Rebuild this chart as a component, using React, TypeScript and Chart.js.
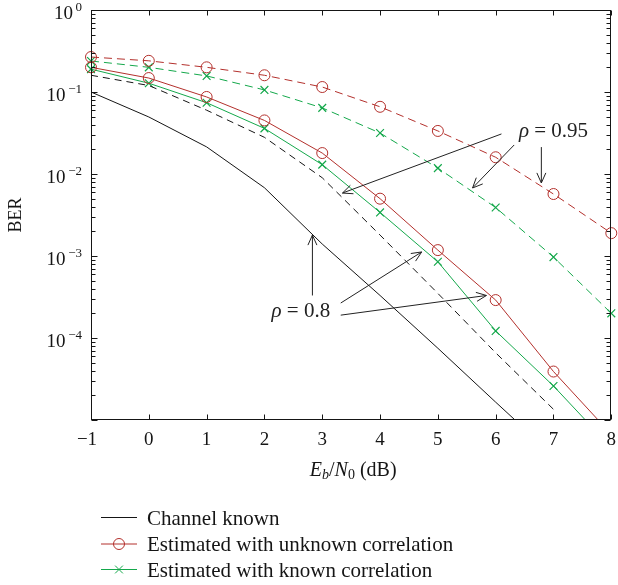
import React, { useEffect, useRef } from 'react';
import { Chart, registerables } from 'chart.js';

Chart.register(...registerables);

// ---------- data ----------
const ebn0 = [-1, 0, 1, 2, 3, 4, 5, 6, 7, 8];
const channelKnown = [0.1, 0.0496, 0.0214, 0.0068, 0.0014, 3.3e-4, 7.5e-5, 1.65e-5, 3.7e-6, 8.5e-7];
const channelKnownDashed = [0.16, 0.12, 0.06, 0.028, 0.009, 0.0018, 3.5e-4, 6.6e-5, 1.35e-5, null];
const unknownCorr08 = [0.2, 0.148, 0.087, 0.045, 0.018, 0.005, 0.00118, 2.9e-4, 3.9e-5, 6.7e-6];
const knownCorr08 = [0.19, 0.128, 0.074, 0.036, 0.013, 0.0034, 8.5e-4, 1.22e-4, 2.6e-5, 4.6e-6];
const unknownCorr095 = [0.267, 0.24, 0.2, 0.16, 0.115, 0.066, 0.0335, 0.016, 0.0057, 0.0019];
const knownCorr095 = [0.239, 0.2, 0.157, 0.106, 0.064, 0.0316, 0.0118, 0.0039, 9.7e-4, 2e-4];

const xTickValues = [-1, 0, 1, 2, 3, 4, 5, 6, 7, 8];
const yTickExponents = [0, -1, -2, -3, -4];
const yDecades = [-5, -4, -3, -2, -1];
const legendLabels = ['Channel known', 'Estimated with unknown correlation', 'Estimated with known correlation'];

// annotation text anchor (data coords) and arrows [fromX, fromY, toX, toY]
const rhoLabels = ['0.95', '0.8'];
const rhoAnchors = [[7.0, 0.0344], [2.63, 2.2e-4]];
const rhoArrows = [
  [[6.1, 0.0308, 3.35, 0.00586], [6.32, 0.0226, 5.6, 0.00675], [6.79, 0.0213, 6.79, 0.00778]],
  [[2.83, 3.3e-4, 2.83, 0.0018], [3.32, 2.67e-4, 4.72, 0.00112], [3.32, 1.9e-4, 5.84, 3.3e-4]],
];

const RED = '#b3302c';
const GREEN = '#14a84b';
const BLACK = '#151515';
const SERIF = '"Liberation Serif", "DejaVu Serif", serif';

const toPoints = (vals: (number | null)[]) =>
  ebn0.map((x, i) => ({ x, y: vals[i] })).filter((p) => p.y !== null);

const drawRuns = (
  ctx: CanvasRenderingContext2D,
  runs: { t: string; f: string; dy?: number }[],
  x: number,
  y: number,
  align: 'left' | 'center' | 'right'
) => {
  ctx.textAlign = 'left';
  ctx.textBaseline = 'alphabetic';
  let total = 0;
  runs.forEach((r) => {
    ctx.font = r.f;
    total += ctx.measureText(r.t).width;
  });
  let cx = align === 'left' ? x : align === 'center' ? x - total / 2 : x - total;
  runs.forEach((r) => {
    ctx.font = r.f;
    ctx.fillText(r.t, cx, y + (r.dy || 0));
    cx += ctx.measureText(r.t).width;
  });
};

const arrow = (ctx: CanvasRenderingContext2D, x1: number, y1: number, x2: number, y2: number) => {
  ctx.beginPath();
  ctx.moveTo(x1, y1);
  ctx.lineTo(x2, y2);
  const ang = Math.atan2(y2 - y1, x2 - x1);
  const len = 11;
  const spread = 0.42;
  ctx.moveTo(x2 - len * Math.cos(ang - spread), y2 - len * Math.sin(ang - spread));
  ctx.lineTo(x2, y2);
  ctx.lineTo(x2 - len * Math.cos(ang + spread), y2 - len * Math.sin(ang + spread));
  ctx.stroke();
};

const axesPlugin = {
  id: 'matlabAxes',
  afterDraw(chart: any) {
    const { ctx, chartArea: a, scales } = chart;
    const xs = scales.x;
    const ys = scales.y;
    ctx.save();
    ctx.strokeStyle = BLACK;
    ctx.fillStyle = BLACK;
    ctx.lineWidth = 1;
    const L = Math.round(a.left) + 0.5;
    const R = Math.round(a.right) - 0.5;
    const T = Math.round(a.top) + 0.5;
    const B = Math.round(a.bottom) - 0.5;
    ctx.strokeRect(L, T, R - L, B - T);

    ctx.beginPath();
    xTickValues.forEach((v) => {
      const px = Math.round(xs.getPixelForValue(v)) + 0.5;
      ctx.moveTo(px, B);
      ctx.lineTo(px, B - 5);
      ctx.moveTo(px, T);
      ctx.lineTo(px, T + 5);
    });
    yDecades.forEach((d) => {
      for (let m = 1; m <= 9; m++) {
        const py = Math.round(ys.getPixelForValue(m * Math.pow(10, d))) + 0.5;
        const len = m === 1 ? 6 : 4;
        ctx.moveTo(L, py);
        ctx.lineTo(L + len, py);
        ctx.moveTo(R, py);
        ctx.lineTo(R - len, py);
      }
    });
    ctx.stroke();

    // x tick labels
    ctx.font = `19px ${SERIF}`;
    ctx.textAlign = 'center';
    ctx.textBaseline = 'alphabetic';
    xTickValues.forEach((v) => {
      const px = xs.getPixelForValue(v);
      const s = v < 0 ? '\u2212' + Math.abs(v) : String(v);
      ctx.fillText(s, px - (v < 0 ? 4 : 0), B + 25.5);
    });

    // y tick labels
    yTickExponents.forEach((e) => {
      const py = ys.getPixelForValue(Math.pow(10, e));
      const sup = e === 0 ? '0' : '\u2212' + Math.abs(e);
      drawRuns(
        ctx,
        [
          { t: '10', f: `19px ${SERIF}` },
          { t: '\u2009' + sup, f: `13px ${SERIF}`, dy: -8 },
        ],
        82,
        py + 9,
        'right'
      );
    });

    // axis titles
    const cxTitle = (a.left + a.right) / 2 + 2;
    drawRuns(
      ctx,
      [
        { t: 'E', f: `italic 20px ${SERIF}` },
        { t: 'b', f: `italic 14px ${SERIF}`, dy: 3 },
        { t: '/', f: `20px ${SERIF}` },
        { t: 'N', f: `italic 20px ${SERIF}` },
        { t: '0', f: `14px ${SERIF}`, dy: 3 },
        { t: ' (dB)', f: `20px ${SERIF}` },
      ],
      cxTitle,
      B + 56,
      'center'
    );
    ctx.save();
    ctx.translate(21, (a.top + a.bottom) / 2);
    ctx.rotate(-Math.PI / 2);
    ctx.font = `18px ${SERIF}`;
    ctx.textAlign = 'center';
    ctx.textBaseline = 'alphabetic';
    ctx.fillText('BER', 0, 0);
    ctx.restore();

    // annotations
    ctx.strokeStyle = '#222';
    ctx.fillStyle = '#222';
    rhoLabels.forEach((lab, i) => {
      const [ax, ay] = rhoAnchors[i];
      const px = xs.getPixelForValue(ax);
      const py = ys.getPixelForValue(ay);
      drawRuns(
        ctx,
        [
          { t: '\u03C1', f: `italic 21px ${SERIF}` },
          { t: ' = ' + lab, f: `21px ${SERIF}` },
        ],
        px,
        py + 7,
        'center'
      );
      rhoArrows[i].forEach(([x1, y1, x2, y2]) => {
        arrow(ctx, xs.getPixelForValue(x1), ys.getPixelForValue(y1), xs.getPixelForValue(x2), ys.getPixelForValue(y2));
      });
    });

    // legend
    const ds = chart.data.datasets;
    const legendSets = [ds[0], ds[2], ds[3]];
    const rowY = [517, 543.5, 569];
    legendSets.forEach((d: any, i: number) => {
      const y = rowY[i] + 0.5;
      ctx.strokeStyle = d.borderColor;
      ctx.lineWidth = 1;
      ctx.setLineDash([]);
      ctx.beginPath();
      ctx.moveTo(101, y);
      ctx.lineTo(137, y);
      ctx.stroke();
      const mx = 119;
      if (d.pointStyle === 'circle' && d.pointRadius > 0) {
        ctx.beginPath();
        ctx.arc(mx, y, d.pointRadius, 0, Math.PI * 2);
        ctx.stroke();
      } else if (d.pointStyle === 'crossRot' && d.pointRadius > 0) {
        const r = d.pointRadius * 0.7071;
        ctx.beginPath();
        ctx.moveTo(mx - r, y - r);
        ctx.lineTo(mx + r, y + r);
        ctx.moveTo(mx - r, y + r);
        ctx.lineTo(mx + r, y - r);
        ctx.stroke();
      }
      ctx.fillStyle = BLACK;
      ctx.font = `21px ${SERIF}`;
      ctx.textAlign = 'left';
      ctx.textBaseline = 'alphabetic';
      ctx.fillText(legendLabels[i], 147, rowY[i] + 7.5);
    });
    ctx.restore();
  },
};

const clipArea = { left: 8, top: 8, right: 8, bottom: 0 };

export default function App() {
  const ref = useRef<HTMLCanvasElement>(null);
  useEffect(() => {
    if (!ref.current) return;
    const chart = new Chart(ref.current, {
      type: 'line',
      data: {
        datasets: [
          {
            label: legendLabels[0],
            data: toPoints(channelKnown),
            borderColor: BLACK,
            borderWidth: 1,
            pointRadius: 0,
            pointStyle: 'circle',
            clip: clipArea,
          },
          {
            label: 'Channel known (dashed)',
            data: toPoints(channelKnownDashed),
            borderColor: BLACK,
            borderWidth: 1,
            borderDash: [7, 5],
            pointRadius: 0,
            clip: clipArea,
          },
          {
            label: legendLabels[1],
            data: toPoints(unknownCorr08),
            borderColor: RED,
            borderWidth: 1,
            pointStyle: 'circle',
            pointRadius: 5.5,
            pointBorderColor: RED,
            pointBackgroundColor: 'rgba(0,0,0,0)',
            pointBorderWidth: 1,
            clip: clipArea,
          },
          {
            label: legendLabels[2],
            data: toPoints(knownCorr08),
            borderColor: GREEN,
            borderWidth: 1,
            pointStyle: 'crossRot',
            pointRadius: 5.5,
            pointBorderColor: GREEN,
            pointBorderWidth: 1.2,
            clip: clipArea,
          },
          {
            label: legendLabels[1] + ' (0.95)',
            data: toPoints(unknownCorr095),
            borderColor: RED,
            borderWidth: 1,
            borderDash: [8, 5],
            pointStyle: 'circle',
            pointRadius: 5.5,
            pointBorderColor: RED,
            pointBackgroundColor: 'rgba(0,0,0,0)',
            pointBorderWidth: 1,
            clip: clipArea,
          },
          {
            label: legendLabels[2] + ' (0.95)',
            data: toPoints(knownCorr095),
            borderColor: GREEN,
            borderWidth: 1,
            borderDash: [8, 5],
            pointStyle: 'crossRot',
            pointRadius: 5.5,
            pointBorderColor: GREEN,
            pointBorderWidth: 1.2,
            clip: clipArea,
          },
        ] as any,
      },
      options: {
        responsive: false,
        animation: false,
        layout: { padding: { left: 91, top: 10, right: 6, bottom: 165 } },
        elements: { line: { tension: 0 } },
        scales: {
          x: { type: 'linear', min: -1, max: 8, display: false },
          y: { type: 'logarithmic', min: 1e-5, max: 1, display: false },
        },
        plugins: { legend: { display: false }, tooltip: { enabled: false } },
      },
      plugins: [axesPlugin],
    });
    return () => chart.destroy();
  }, []);
  return (
    <div style={{ position: 'absolute', left: 0, top: 0, width: 618, height: 585, background: '#fff' }}>
      <canvas ref={ref} width={618} height={585} style={{ display: 'block' }} />
    </div>
  );
}
